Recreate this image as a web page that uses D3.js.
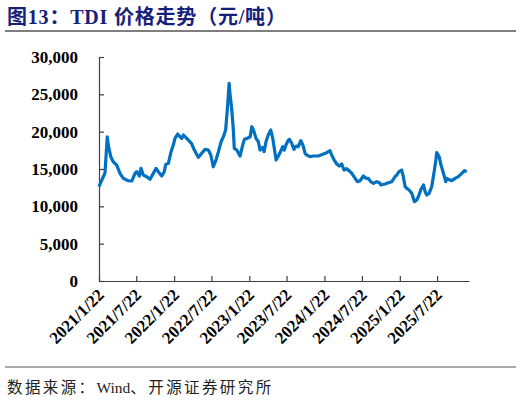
<!DOCTYPE html>
<html>
<head>
<meta charset="utf-8">
<script src="https://cdn.jsdelivr.net/npm/d3@7"></script>
<style>
  body { margin: 0; background: #fff; }
  svg { display: block; }
</style>
</head>
<body>
<script>
"use strict";

// TDI price, yuan per tonne
var dates = [
  "2021-01-22","2021-02-12","2021-02-20","2021-03-03","2021-03-08","2021-03-20","2021-04-01","2021-04-18",
  "2021-05-04","2021-05-20","2021-06-13","2021-06-30","2021-07-16","2021-07-24","2021-08-06","2021-08-14",
  "2021-08-25","2021-09-11","2021-09-27","2021-10-13","2021-10-26","2021-11-06","2021-11-23","2021-12-05",
  "2021-12-12","2021-12-25","2022-01-07","2022-01-18","2022-01-26","2022-02-08","2022-02-19","2022-02-28",
  "2022-03-08","2022-03-24","2022-04-17","2022-04-30","2022-05-19","2022-06-05","2022-06-21","2022-07-07",
  "2022-07-19","2022-07-31","2022-08-13","2022-08-25","2022-09-07","2022-09-18","2022-09-29","2022-10-07",
  "2022-10-16","2022-10-20","2022-10-29","2022-11-05","2022-11-10","2022-11-22","2022-12-08","2022-12-19",
  "2022-12-29","2023-01-12","2023-01-26","2023-02-03","2023-02-11","2023-02-24","2023-03-07","2023-03-15",
  "2023-03-28","2023-04-04","2023-04-13","2023-04-24","2023-05-06","2023-05-16","2023-05-27","2023-06-01",
  "2023-06-12","2023-06-24","2023-07-03","2023-07-11","2023-07-19","2023-07-31","2023-08-05","2023-08-16",
  "2023-08-27","2023-09-06","2023-09-17","2023-09-29","2023-10-09","2023-10-20","2023-10-28","2023-11-13",
  "2023-11-29","2023-12-23","2024-01-17","2024-02-02","2024-02-18","2024-02-26","2024-03-09","2024-03-22",
  "2024-04-03","2024-04-15","2024-04-26","2024-05-09","2024-05-22","2024-06-03","2024-06-19","2024-06-30",
  "2024-07-13","2024-07-29","2024-08-11","2024-08-22","2024-09-03","2024-09-16","2024-10-02","2024-10-15",
  "2024-10-23","2024-11-11","2024-11-27","2024-12-14","2024-12-30","2025-01-07","2025-01-18","2025-01-31",
  "2025-02-08","2025-02-17","2025-02-25","2025-03-08","2025-03-21","2025-04-03","2025-04-14","2025-04-22",
  "2025-05-05","2025-05-17","2025-05-25","2025-06-02","2025-06-13","2025-06-26","2025-07-09","2025-07-16",
  "2025-07-20","2025-08-01","2025-08-10","2025-08-22","2025-09-02","2025-09-07","2025-09-15","2025-10-01",
  "2025-10-17","2025-11-02","2025-11-19","2025-12-02","2025-12-13","2025-12-24"
];

var prices = [
  12630,13970,14460,19320,18200,16650,15970,15530,
  14420,13750,13430,13390,14420,14640,14060,15090,
  14190,13970,13620,14420,15090,14640,14060,14640,
  15620,15760,17320,18210,19100,19680,19320,19100,
  19550,19100,18400,17540,16560,17100,17630,17540,
  16870,15300,16200,17320,18650,19320,20220,22900,
  26470,25130,22900,20450,17770,17540,16740,17990,
  18970,19100,19320,20660,20220,19100,18650,17540,
  17900,17320,18650,19550,20220,19100,17100,16200,
  16740,17410,17990,17540,18210,18880,18970,18440,
  17630,18080,17990,18790,18210,17100,16870,16650,
  16740,16740,17010,17190,17450,16870,16200,15670,
  15400,15670,14860,15040,14730,14420,13750,13300,
  13430,14060,13750,13750,13300,13080,13300,13160,
  12860,12990,13160,13300,13970,14190,14640,
  14860,13970,12630,12410,12190,11740,10620,10850,
  11290,12280,12860,11960,11520,11740,12630,14860,
  16200,17190,16650,15530,14420,13300,13750,13620,
  13430,13750,13970,14420,14770,14640
];

var tickDates = ["2021-01-22","2021-07-22","2022-01-22","2022-07-22","2023-01-22",
                 "2023-07-22","2024-01-22","2024-07-22","2025-01-22","2025-07-22"];
var tickLabels = ["2021/1/22","2021/7/22","2022/1/22","2022/7/22","2023/1/22",
                  "2023/7/22","2024/1/22","2024/7/22","2025/1/22","2025/7/22"];
var yTicks = [0, 5000, 10000, 15000, 20000, 25000, 30000];

var W = 522, H = 405;
var plot = {left: 99, right: 469, top: 57, bottom: 281};

var parseDate = d3.timeParse("%Y-%m-%d");

var svg = d3.select("body").append("svg")
  .attr("width", W)
  .attr("height", H);

// title and rules
svg.append("text")
  .attr("x", 7)
  .attr("y", 24)
  .attr("fill", "#16217a")
  .attr("font-family", "'Liberation Serif', 'Noto Sans CJK SC', serif")
  .attr("font-weight", "bold")
  .attr("font-size", 20)
  .attr("letter-spacing", 0.8)
  .text("图13：TDI 价格走势（元/吨）");

svg.append("line")
  .attr("x1", 5).attr("x2", 516)
  .attr("y1", 31).attr("y2", 31)
  .attr("stroke", "#555").attr("stroke-width", 1.5);

svg.append("line")
  .attr("x1", 5).attr("x2", 516)
  .attr("y1", 367).attr("y2", 367)
  .attr("stroke", "#555").attr("stroke-width", 1.2);

var src = svg.append("text")
  .attr("x", 7)
  .attr("y", 393)
  .attr("fill", "#222")
  .attr("font-family", "'Liberation Serif', 'Noto Sans CJK SC', serif")
  .attr("font-size", 15.5);
src.append("tspan").attr("letter-spacing", 2.4).text("数据来源：");
src.append("tspan").text("Wind");
src.append("tspan").attr("letter-spacing", 2.4).text("、开源证券研究所");

// scales
var x = d3.scaleTime()
  .domain([parseDate("2021-01-22"), parseDate("2025-12-24")])
  .range([plot.left, plot.right]);

var y = d3.scaleLinear()
  .domain([0, 30000])
  .range([plot.bottom, plot.top]);

// y axis, ticks pointing into the plot
var yAxis = d3.axisLeft(y)
  .tickValues(yTicks)
  .tickFormat(d3.format(","))
  .tickSize(-5)
  .tickSizeOuter(0)
  .tickPadding(21);

var gy = svg.append("g")
  .attr("transform", "translate(" + plot.left + ",0)")
  .call(yAxis);

gy.selectAll("path, line").attr("stroke", "#404040").attr("stroke-width", 1.2);
gy.selectAll("text")
  .attr("font-family", "'Liberation Serif', serif")
  .attr("font-weight", "bold")
  .attr("font-size", 17)
  .attr("fill", "#000");

// x axis
var xAxis = d3.axisBottom(x)
  .tickValues(tickDates.map(parseDate))
  .tickFormat("")
  .tickSize(-5)
  .tickSizeOuter(0);

var gx = svg.append("g")
  .attr("transform", "translate(0," + plot.bottom + ")")
  .call(xAxis);

gx.selectAll("path, line").attr("stroke", "#404040").attr("stroke-width", 1.2);

svg.append("g").selectAll("text")
  .data(tickDates)
  .enter().append("text")
  .attr("transform", function(d) {
    return "translate(" + (x(parseDate(d)) + 6) + "," + (plot.bottom + 15) + ") rotate(-45)";
  })
  .attr("text-anchor", "end")
  .attr("font-family", "'Liberation Serif', serif")
  .attr("font-weight", "bold")
  .attr("font-size", 17)
  .attr("fill", "#000")
  .text(function(d, i) { return tickLabels[i]; });

// price line
var line = d3.line()
  .x(function(d) { return x(parseDate(d[0])); })
  .y(function(d) { return y(d[1]); });

svg.append("path")
  .datum(d3.zip(dates, prices))
  .attr("fill", "none")
  .attr("stroke", "#0070c0")
  .attr("stroke-width", 3.2)
  .attr("stroke-linejoin", "round")
  .attr("d", line);
</script>
</body>
</html>
